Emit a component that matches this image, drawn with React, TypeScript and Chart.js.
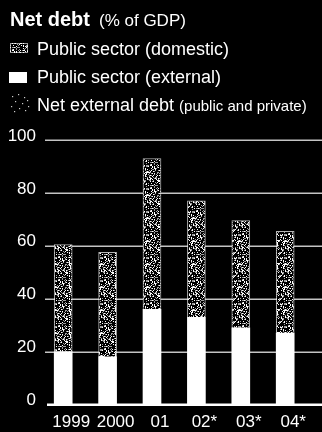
import React, { useEffect, useRef } from 'react';
import { Chart, registerables } from 'chart.js';

Chart.register(...registerables);

const categories = ['1999', '2000', '01', '02*', '03*', '04*'];
const publicExternal = [20, 18, 36, 33, 29, 27];
const publicDomestic = [40.5, 39.5, 57, 44, 40.5, 38.5];
const yTicks = [0, 20, 40, 60, 80, 100];

const FONT = '"Liberation Sans", Arial, Helvetica, sans-serif';

function makeSpeckle(size: number, density: number): CanvasPattern | string {
  const c = document.createElement('canvas');
  c.width = size;
  c.height = size;
  const ctx = c.getContext('2d');
  if (!ctx) return '#777';
  ctx.fillStyle = '#000';
  ctx.fillRect(0, 0, size, size);
  for (let y = 0; y < size; y++) {
    for (let x = 0; x < size; x++) {
      const h = (((x * 7919 + y * 104729 + x * y * 31) ^ (x * 13 + y * 17)) >>> 0) % 97;
      if (h < density) {
        ctx.fillStyle = h < density * 0.45 ? '#ffffff' : '#a0a0a0';
        ctx.fillRect(x, y, 1, 1);
      }
    }
  }
  return ctx.createPattern(c, 'repeat') ?? '#777';
}

export default function App() {
  const canvasRef = useRef<HTMLCanvasElement | null>(null);

  useEffect(() => {
    document.body.style.margin = '0';
    document.body.style.background = '#000';
    const canvas = canvasRef.current;
    if (!canvas) return;
    const speckle = makeSpeckle(23, 34);

    const overlay = {
      id: 'overlay',
      beforeDatasetsDraw(chart: any) {
        const { ctx, width } = chart;
        const y = chart.scales.y;
        ctx.save();
        ctx.strokeStyle = 'rgba(230,230,230,0.85)';
        ctx.lineWidth = 1.5;
        yTicks.forEach((v) => {
          if (v === 0) return;
          const py = Math.round(y.getPixelForValue(v)) + 0.25;
          ctx.beginPath();
          ctx.moveTo(45, py);
          ctx.lineTo(width, py);
          ctx.stroke();
        });
        ctx.restore();
      },
      afterDatasetsDraw(chart: any) {
        const { ctx, width } = chart;
        const y = chart.scales.y;
        const y0 = y.getPixelForValue(0);
        ctx.save();
        ctx.fillStyle = '#ffffff';
        ctx.fillRect(47, y0 - 1, width - 47, 2.5);
        // legend markers
        ctx.fillStyle = speckle;
        ctx.fillRect(10, 43, 18, 10);
        ctx.strokeStyle = 'rgba(255,255,255,0.6)';
        ctx.lineWidth = 1;
        ctx.strokeRect(10.5, 43.5, 17, 9);
        ctx.fillStyle = '#ffffff';
        ctx.fillRect(9, 72, 18, 11);
        ctx.fillStyle = 'rgba(255,255,255,0.8)';
        const dots = [
          [12, 96], [18, 94], [24, 97], [15, 101], [22, 103], [27, 100],
          [11, 106], [19, 108], [25, 110], [14, 111], [28, 106],
        ];
        dots.forEach(([dx, dy]) => ctx.fillRect(dx, dy, 1.2, 1.2));
        ctx.restore();
      },
    };

    const chart = new Chart(canvas, {
      type: 'bar',
      data: {
        labels: categories,
        datasets: [
          {
            label: 'Public sector (external)',
            data: publicExternal,
            backgroundColor: '#ffffff',
            borderWidth: 0,
            barThickness: 18,
            stack: 's',
          },
          {
            label: 'Public sector (domestic)',
            data: publicDomestic,
            backgroundColor: speckle as any,
            borderColor: 'rgba(255,255,255,0.7)',
            borderWidth: 1,
            borderSkipped: 'bottom',
            barThickness: 18,
            stack: 's',
          },
        ],
      },
      options: {
        responsive: false,
        animation: false,
        events: [],
        layout: { padding: { top: 140, right: 14.6, left: 0, bottom: 0 } },
        plugins: {
          legend: { display: false },
          tooltip: { enabled: false },
          title: { display: false },
        },
        scales: {
          x: {
            stacked: true,
            grid: { display: false, drawTicks: false },
            border: { display: false },
            ticks: {
              color: '#ffffff',
              font: { family: FONT, size: 17 },
              padding: 8,
              labelOffset: 8,
              maxRotation: 0,
              autoSkip: false,
            },
            afterFit: (s: any) => {
              s.height = 27.5;
            },
          },
          y: {
            stacked: true,
            min: 0,
            max: 100,
            grid: { display: false, drawTicks: false },
            border: { display: false },
            ticks: {
              color: '#ffffff',
              font: { family: FONT, size: 17 },
              padding: 5,
              labelOffset: -4,
            },
            afterBuildTicks: (s: any) => {
              s.ticks = yTicks.map((v) => ({ value: v }));
            },
            afterFit: (s: any) => {
              s.width = 41;
            },
          },
        },
      },
      plugins: [overlay],
    });
    return () => chart.destroy();
  }, []);

  const lineStyle: React.CSSProperties = {
    position: 'absolute',
    left: 37,
    fontFamily: FONT,
    fontSize: 18,
    lineHeight: '18px',
    color: '#fff',
    whiteSpace: 'nowrap',
  };

  return (
    <div style={{ position: 'relative', width: 322, height: 432, background: '#000', overflow: 'hidden' }}>
      <canvas ref={canvasRef} width={322} height={432} style={{ position: 'absolute', left: 0, top: 0 }} />
      <div
        style={{
          position: 'absolute',
          left: 10,
          top: 9,
          fontFamily: FONT,
          fontSize: 20,
          lineHeight: '20px',
          color: '#fff',
          whiteSpace: 'nowrap',
        }}
      >
        <span style={{ fontWeight: 'bold' }}>Net debt</span>
        <span style={{ fontSize: 17, marginLeft: 9 }}>(% of GDP)</span>
      </div>
      <div style={{ ...lineStyle, top: 40 }}>Public sector (domestic)</div>
      <div style={{ ...lineStyle, top: 68 }}>Public sector (external)</div>
      <div style={{ ...lineStyle, top: 96 }}>
        Net external debt <span style={{ fontSize: 15 }}>(public and private)</span>
      </div>
    </div>
  );
}
